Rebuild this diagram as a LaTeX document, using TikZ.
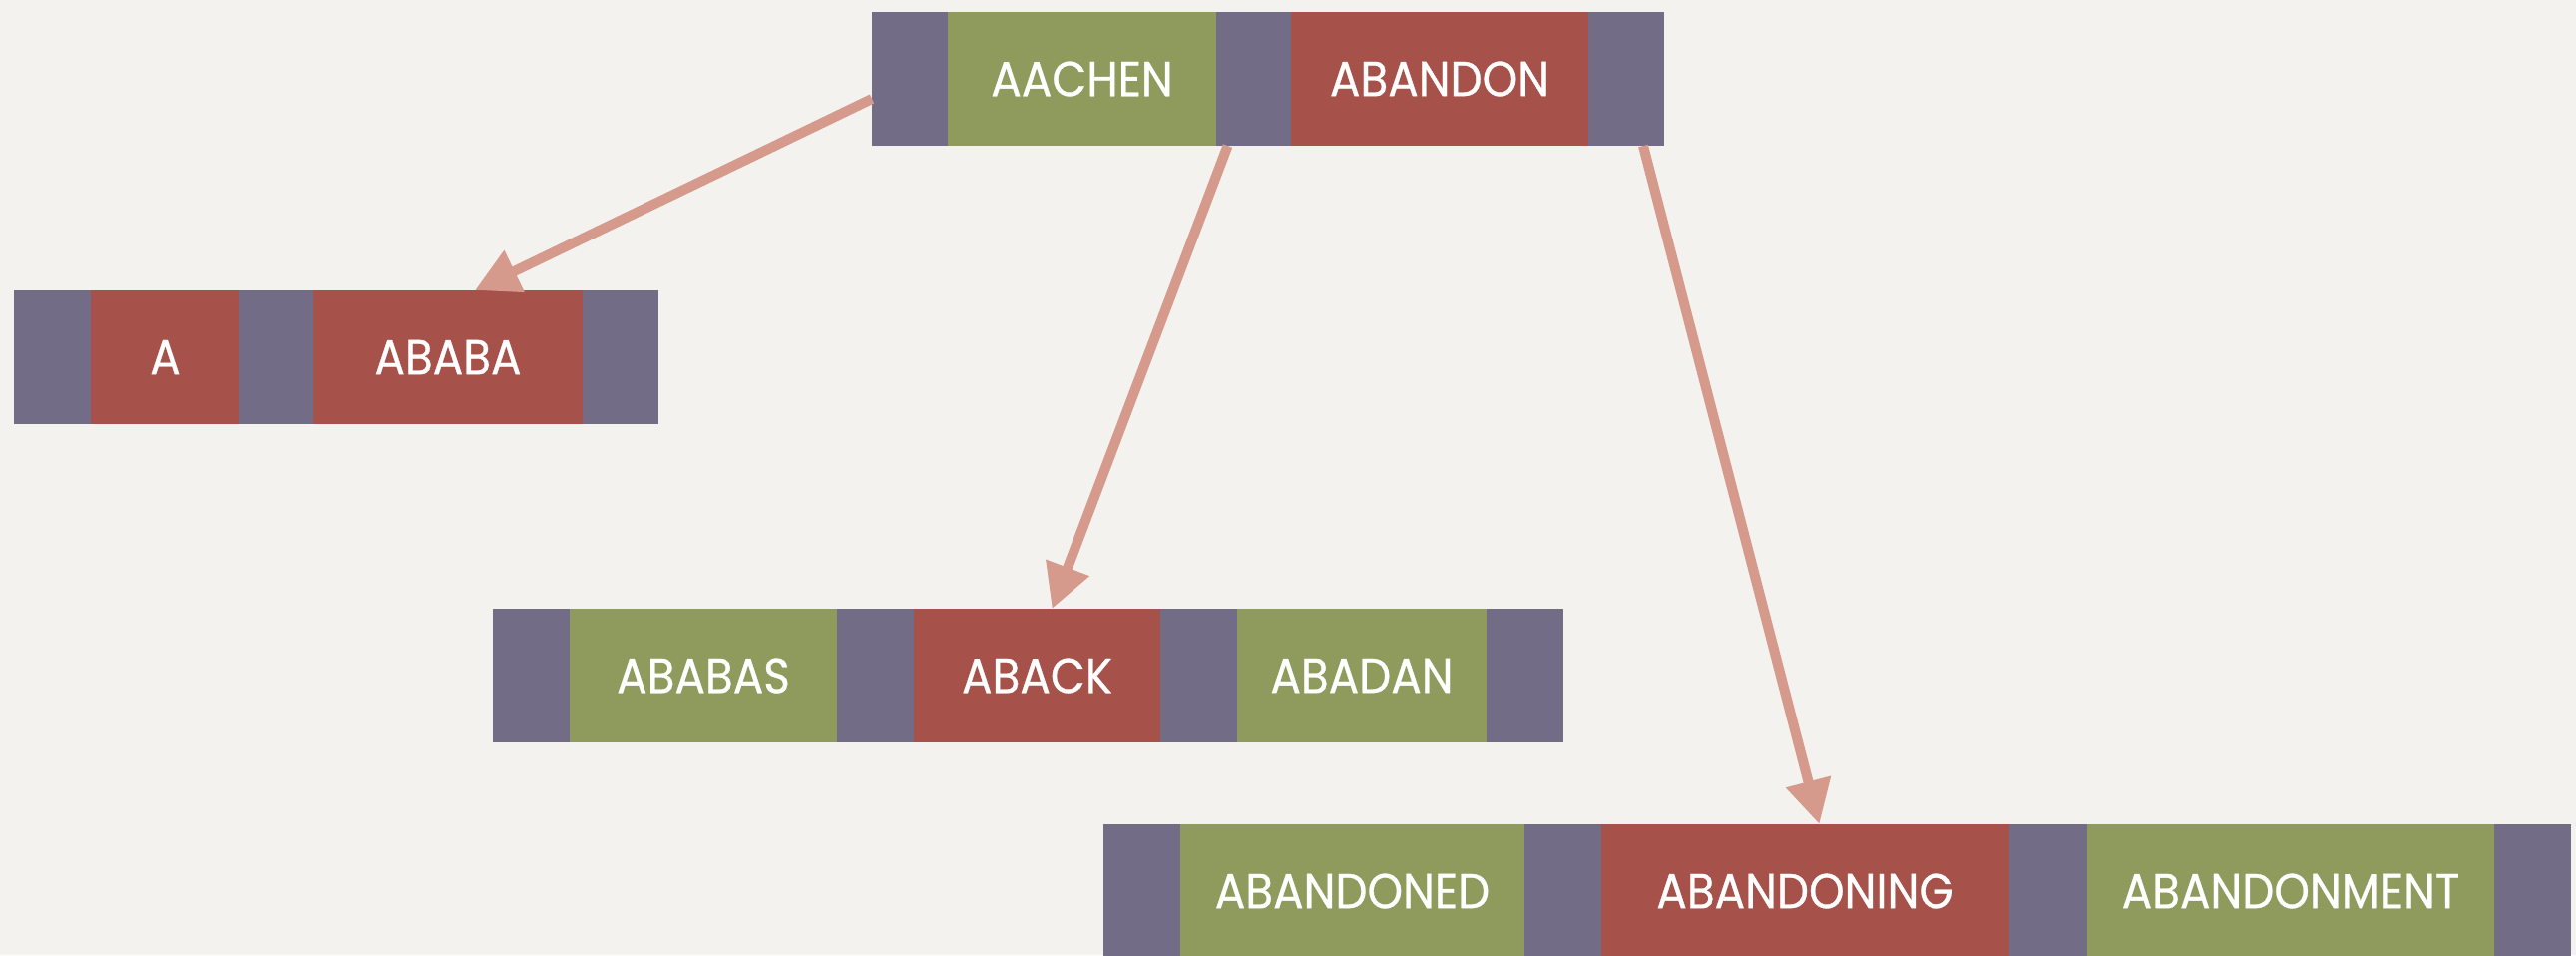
\documentclass[tikz,border=0pt]{standalone}
\usepackage{fontspec}
\setmainfont{Poppins}
\newfontfamily\lblfont{Poppins}[FakeBold=0.6]
\usetikzlibrary{arrows.meta,calc}
\definecolor{bgc}{RGB}{243,242,239}
\definecolor{purc}{RGB}{114,108,135}
\definecolor{grnc}{RGB}{143,155,92}
\definecolor{redc}{RGB}{166,82,74}
\definecolor{arrc}{RGB}{213,154,140}
\newcommand\cellbox[6]{%
  \node[#1, minimum width={(#4-#3)*0.01cm}, anchor=north west] (#2) at (#3,#5) {\scalebox{0.92}[1.0]{#6}};}
\tikzset{
  cellbase/.style={rectangle, inner sep=0pt, outer sep=0pt, minimum height=1.34cm,
    text=white, font=\lblfont\fontsize{14}{16}\selectfont},
  pcell/.style={cellbase, fill=purc},
  gcell/.style={cellbase, fill=grnc},
  rcell/.style={cellbase, fill=redc},
  link/.style={draw=arrc, line width=0.1cm,
    -{Triangle[length=0.44cm, width=0.44cm]}},
}
\begin{document}
\begin{tikzpicture}[x=0.01cm, y=-0.01cm]
\useasboundingbox (0,0) rectangle (2582,957);
\clip (0,0) rectangle (2582,957);
\fill[bgc] (0,0) rectangle (2582,957);
% top node
\cellbox{pcell}{t1}{874}{950}{12}{}
\cellbox{gcell}{aachen}{950}{1219}{12}{AACHEN}
\cellbox{pcell}{t2}{1219}{1294}{12}{}
\cellbox{rcell}{abandon}{1294}{1592}{12}{ABANDON}
\cellbox{pcell}{t3}{1592}{1668}{12}{}
% left node
\cellbox{pcell}{l1}{14}{91}{291}{}
\cellbox{rcell}{a}{91}{240}{291}{A}
\cellbox{pcell}{l2}{240}{314}{291}{}
\cellbox{rcell}{ababa}{314}{584}{291}{ABABA}
\cellbox{pcell}{l3}{584}{660}{291}{}
% middle node
\cellbox{pcell}{m1}{494}{571}{610}{}
\cellbox{gcell}{ababas}{571}{839}{610}{ABABAS}
\cellbox{pcell}{m2}{839}{916}{610}{}
\cellbox{rcell}{aback}{916}{1163}{610}{ABACK}
\cellbox{pcell}{m3}{1163}{1240}{610}{}
\cellbox{gcell}{abadan}{1240}{1490}{610}{ABADAN}
\cellbox{pcell}{m4}{1490}{1567}{610}{}
% bottom node
\cellbox{pcell}{b1}{1106}{1183}{826}{}
\cellbox{gcell}{abandoned}{1183}{1528}{826}{ABANDONED}
\cellbox{pcell}{b2}{1528}{1605}{826}{}
\cellbox{rcell}{abandoning}{1605}{2014}{826}{ABANDONING}
\cellbox{pcell}{b3}{2014}{2092}{826}{}
\cellbox{gcell}{abandonment}{2092}{2500}{826}{ABANDONMENT}
\cellbox{pcell}{b4}{2500}{2577}{826}{}
% connectors
\draw[link] ($(t1.west)+(0,20)$) -- ($(ababa.north)+(27,0)$);
\draw[link] ($(t2.south)+(-26,0)$) -- ($(aback.north)+(15,0)$);
\draw[link] ($(t3.south)+(17,0)$) -- ($(abandoning.north)+(14,0)$);
\end{tikzpicture}
\end{document}
